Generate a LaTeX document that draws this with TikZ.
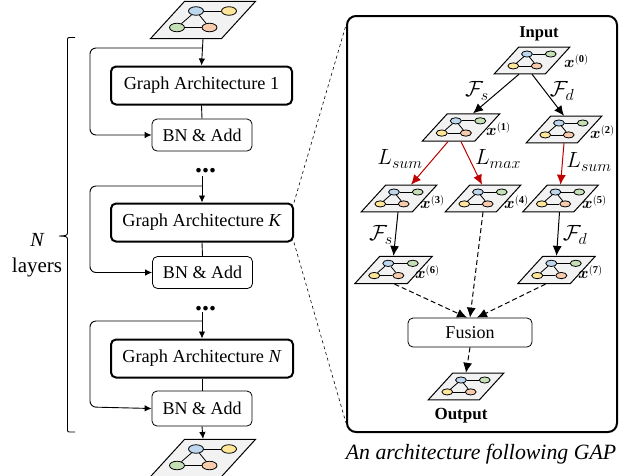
\documentclass[tikz,border=0pt]{standalone}
\usepackage{fix-cm}
\usepackage{amsmath}
\usepackage{amssymb}
\usepackage{bm}
\usepackage{fontspec}
\setmainfont{Liberation Serif}
\DeclareMathSizes{16}{16}{10.5}{8}
\DeclareMathSizes{22}{22}{16}{12}
\usetikzlibrary{arrows.meta,shapes.geometric}
\definecolor{planefill}{HTML}{F2F2F2}
\definecolor{gblue}{HTML}{BDD7EE}
\definecolor{gyellow}{HTML}{FFE699}
\definecolor{ggreen}{HTML}{C5E0B4}
\definecolor{gorange}{HTML}{F8CBAD}
\definecolor{linkred}{HTML}{C00000}
\tikzset{
  plane/.style={trapezium,draw,fill=planefill,line width=1pt,inner sep=1pt,
    trapezium left angle=47.6,trapezium right angle=132.4,
    minimum width=105pt,minimum height=34pt},
  dot/.style={ellipse,draw,line width=0.8pt,inner sep=0pt,minimum width=15pt,minimum height=8.5pt},
  archbox/.style={draw,line width=2pt,rounded corners=5pt,minimum width=181pt,minimum height=38pt,font=\fontsize{18.3}{20}\selectfont},
  bnbox/.style={draw,line width=0.8pt,rounded corners=5pt,minimum width=100pt,minimum height=32pt,font=\fontsize{18}{20}\selectfont},
  dotsrow/.style={font=\bfseries\fontsize{28}{28}\selectfont,inner sep=0pt,text height=4pt,text depth=0pt},
  link/.style={line width=0.9pt,-{Latex[length=7pt,width=6.5pt]}},
  flow/.style={line width=1pt,-{Latex[length=10pt,width=9pt]}},
  dashflow/.style={flow,dash pattern=on 5pt off 3pt},
  xlab/.style={anchor=west,inner sep=0pt,font=\fontsize{16}{18}\selectfont},
  mlab/.style={inner sep=0pt,font=\fontsize{22}{24}\selectfont}
}
% name, x, y, scale, top right colour, bottom left colour
\newcommand{\planegraph}[6]{
\begin{scope}[shift={(#2,#3)},scale=#4,transform shape]
\node (#1) [plane] at (0,0) {};
\node (#1b) [dot,fill=gblue] at (-7,-9) {};
\node (#1r) [dot,fill=#5] at (26,-9) {};
\node (#1l) [dot,fill=#6] at (-26,7.5) {};
\node (#1o) [dot,fill=gorange] at (6.5,7.5) {};
\draw [line width=0.8pt] (#1b) -- (#1r);
\draw [line width=0.8pt] (#1b) -- (#1l);
\draw [line width=0.8pt] (#1b) -- (#1o);
\draw [line width=0.8pt] (#1l) -- (#1o);
\end{scope}
}
\begin{document}
\begin{tikzpicture}[x=1pt,y=-1pt]
\useasboundingbox (0,0) rectangle (621,475);
\planegraph{top}{203}{20}{1}{gyellow}{ggreen}
\planegraph{bottom}{203}{458}{1}{gyellow}{ggreen}
\node (arch1) [archbox] at (201.5,85.5) {Graph Architecture 1};
\node (bn1) [bnbox] at (202,135) {BN \& Add};
\node (archK) [archbox,minimum width=182pt] at (202,222.5) {Graph Architecture \textit{K}};
\node (bnK) [bnbox] at (202.5,272.5) {BN \& Add};
\node (archN) [archbox,minimum width=182pt] at (202,358.5) {Graph Architecture \textit{N}};
\node (bnN) [bnbox,minimum height=35pt] at (202,408.5) {BN \& Add};
\node (dots1) [dotsrow] at (205.5,170.5) {...};
\node (dots2) [dotsrow] at (205.5,308) {...};
\coordinate (start2) at (202,176);
\coordinate (split1) at (202,48);
\coordinate (split2) at (202,186);
\coordinate (start3) at (202,312);
\coordinate (split3) at (202,321);
\draw [link] (top.south) -- (arch1.north);
\draw [line width=0.9pt] (arch1.south) -- (bn1.north);
\draw [link,rounded corners=6pt] (split1) -- (90,48) -- (90,135) -- (bn1.west);
\draw [link] (start2) -- (archK.north);
\draw [line width=0.9pt] (archK.south) -- (bnK.north);
\draw [link,rounded corners=6pt] (split2) -- (90,186) -- (90,272.5) -- (bnK.west);
\draw [link] (start3) -- (archN.north);
\draw [line width=0.9pt] (archN.south) -- (bnN.north);
\draw [link,rounded corners=6pt] (split3) -- (90,321) -- (90,407) -- (bnN.west);
\draw [link] (bnN.south) -- (bottom.north);
\draw [line width=0.9pt] (75,37.5) -- (69.5,37.5) .. controls (68,37.5) and (67.5,38) .. (67.5,39.5) -- (67.5,233) .. controls (67.5,235.5) and (65,236) .. (59,236) .. controls (65,236) and (67.5,236.5) .. (67.5,239) -- (67.5,430) .. controls (67.5,431.5) and (68,432) .. (69.5,432) -- (75,432);
\node (nlab) [font=\itshape\fontsize{20}{22}\selectfont,inner sep=0pt] at (37,240) {N};
\node (layerslab) [font=\fontsize{21}{23}\selectfont,inner sep=0pt] at (37,267) {layers};
\node (frame) [draw,line width=2pt,rounded corners=9pt,minimum width=270pt,minimum height=416pt] at (482,224) {};
\draw [line width=0.6pt,dashed] (archK.north east) -- ([yshift=-10pt]frame.north west);
\draw [line width=0.6pt,dashed] (archK.south east) -- ([yshift=10pt]frame.south west);
\node (inputlab) [font=\bfseries\fontsize{16.5}{18}\selectfont,inner sep=0pt] at (539,34) {Input};
\planegraph{g0}{532}{60.5}{0.72}{ggreen}{gyellow}
\planegraph{g1}{461}{127.5}{0.74}{ggreen}{gyellow}
\planegraph{g2}{564}{129.5}{0.72}{ggreen}{gyellow}
\planegraph{g3}{399}{198.5}{0.72}{ggreen}{gyellow}
\planegraph{g4}{483}{198.5}{0.72}{ggreen}{gyellow}
\planegraph{g5}{560.5}{198.5}{0.72}{ggreen}{gyellow}
\planegraph{g6}{393.5}{270}{0.74}{ggreen}{gyellow}
\planegraph{g7}{556.5}{270}{0.74}{ggreen}{gyellow}
\planegraph{gout}{466}{386.5}{0.72}{ggreen}{gyellow}
\node (x0) [xlab] at (564,61) {$\bm{x}^{(\mathbf{0})}$};
\node (x1) [xlab] at (486,129) {$\bm{x}^{(\mathbf{1})}$};
\node (x2) [xlab] at (590,132) {$\bm{x}^{(\mathbf{2})}$};
\node (x3) [xlab] at (420,202) {$\bm{x}^{(\mathbf{3})}$};
\node (x4) [xlab] at (504,202) {$\bm{x}^{(\mathbf{4})}$};
\node (x5) [xlab] at (582,202) {$\bm{x}^{(\mathbf{5})}$};
\node (x6) [xlab] at (415,272) {$\bm{x}^{(\mathbf{6})}$};
\node (x7) [xlab] at (578,272) {$\bm{x}^{(\mathbf{7})}$};
\node (fusion) [bnbox,minimum width=124pt,minimum height=29pt] at (470,332.5) {Fusion};
\node (outputlab) [font=\bfseries\fontsize{17}{19}\selectfont,inner sep=0pt] at (461,416) {Output};
\node (caption) [font=\itshape\fontsize{21.8}{23}\selectfont,inner sep=0pt] at (481,454) {An architecture following GAP};
\draw [flow] ([xshift=-13pt]g0.south) -- ([xshift=12pt]g1.north);
\draw [flow] (g0.south) -- (g2.north);
\draw [flow,linkred] ([xshift=-13pt]g1.south) -- ([xshift=12pt]g3.north);
\draw [flow,linkred] (g1.south) -- ([xshift=-1pt]g4.north);
\draw [flow,linkred] (g2.south) -- (g5.north);
\draw [flow] ([xshift=-1pt]g3.south) -- (g6.north);
\draw [dashflow] (g4.south) -- (fusion.north);
\draw [flow] ([xshift=-1pt]g5.south) -- (g7.north);
\draw [dashflow] ([xshift=1pt]g6.south) -- ([xshift=-3pt]fusion.north);
\draw [dashflow] ([xshift=-11pt]g7.south) -- ([xshift=7pt]fusion.north);
\draw [dashflow] (fusion.south) -- (gout.north);
\node (fs1) [mlab] at (477,91) {$\mathcal{F}_s$};
\node (fd1) [mlab] at (562,91) {$\mathcal{F}_d$};
\node (lsum1) [mlab] at (400,159) {$L_{sum}$};
\node (lmax) [mlab] at (498,159) {$L_{max}$};
\node (lsum2) [mlab] at (589,162) {$L_{sum}$};
\node (fs2) [mlab] at (381,235) {$\mathcal{F}_s$};
\node (fd2) [mlab] at (575,235) {$\mathcal{F}_d$};
\end{tikzpicture}
\end{document}
